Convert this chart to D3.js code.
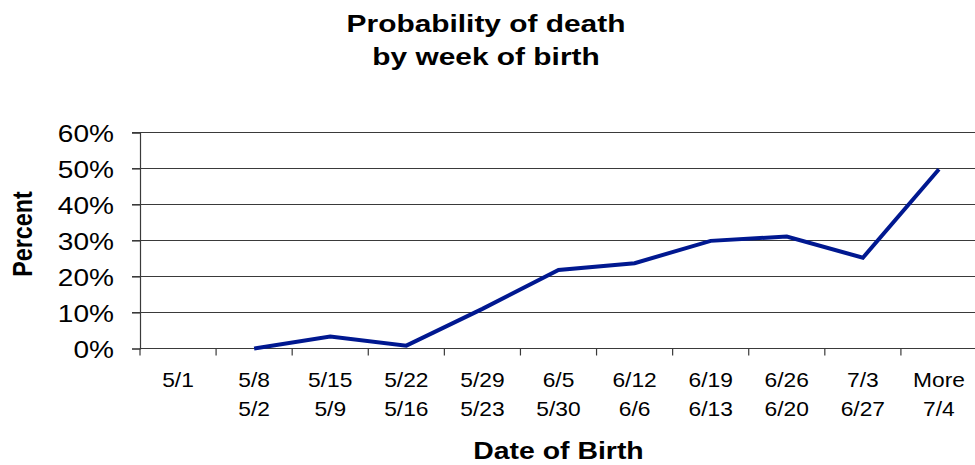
<!DOCTYPE html>
<html>
<head>
<meta charset="utf-8">
<script src="https://cdn.jsdelivr.net/npm/d3@7"></script>
<style>
  html, body { margin: 0; padding: 0; background: #fff; }
  svg { display: block; }
  text { font-family: "Liberation Sans", Arial, sans-serif; fill: #000; }
</style>
</head>
<body>
<svg id="chart" width="975" height="465"></svg>
<script>
// ---- data ----
const weekEnd   = ["5/1", "5/8", "5/15", "5/22", "5/29", "6/5", "6/12", "6/19", "6/26", "7/3", "More"];
const weekStart = ["", "5/2", "5/9", "5/16", "5/23", "5/30", "6/6", "6/13", "6/20", "6/27", "7/4"];
const deathPct  = [null, 0.0, 3.3, 0.8, 11.0, 21.8, 23.7, 29.9, 31.1, 25.2, 49.8];
const yTicks    = [0, 10, 20, 30, 40, 50, 60];
const titleLines = ["Probability of death", "by week of birth"];
const xTitle = "Date of Birth";
const yTitle = "Percent";

// ---- layout ----
const SX = 1.22; // horizontal text stretch of the reference
const plotL = 140, plotR = 977, plotT = 132.5, plotB = 348.5;
const svg = d3.select("#chart");

const x = d3.scaleBand().domain(weekEnd).range([plotL, plotR]).padding(0);
const y = d3.scaleLinear().domain([0, 60]).range([plotB, plotT]);

// gridlines
svg.append("g").selectAll("line").data(yTicks.filter(d => d > 0)).join("line")
  .attr("x1", plotL - 8).attr("x2", 975)
  .attr("y1", d => y(d)).attr("y2", d => y(d))
  .attr("stroke", "#3a3a3a").attr("stroke-width", 1.2);

// y axis
const yAxis = svg.append("g").attr("transform", `translate(${plotL},0)`)
  .call(d3.axisLeft(y).tickValues(yTicks).tickSize(8).tickPadding(0)
    .tickFormat(d => d + "%"));
yAxis.select(".domain").attr("stroke", "#3a3a3a").attr("stroke-width", 1.2);
yAxis.selectAll(".tick line").attr("stroke", "#3a3a3a").attr("stroke-width", 1.2);
yAxis.selectAll(".tick text")
  .attr("x", null).attr("dy", null)
  .attr("font-size", 23).attr("text-anchor", "end").attr("fill", "#000")
  .attr("transform", `translate(${114 - plotL},9) scale(${SX},1)`);

// x axis
const xAxis = svg.append("g").attr("transform", `translate(0,${plotB})`)
  .call(d3.axisBottom(x).tickSize(0).tickFormat(""));
xAxis.select(".domain").attr("stroke", "#3a3a3a").attr("stroke-width", 1.2)
  .attr("d", `M${plotL},0H975`);
// boundary ticks between categories
svg.append("g").selectAll("line").data(weekEnd).join("line")
  .attr("x1", d => x(d)).attr("x2", d => x(d))
  .attr("y1", plotB).attr("y2", plotB + 7)
  .attr("stroke", "#3a3a3a").attr("stroke-width", 1.2);

// category labels
const labs = svg.append("g");
weekEnd.forEach((d, i) => {
  const cx = x(d) + x.bandwidth() / 2;
  labs.append("text").text(d)
    .attr("font-size", 20).attr("text-anchor", "middle")
    .attr("transform", `translate(${cx},387) scale(1.14,1)`);
  if (weekStart[i]) {
    labs.append("text").text(weekStart[i])
      .attr("font-size", 20).attr("text-anchor", "middle")
      .attr("transform", `translate(${cx},416) scale(1.14,1)`);
  }
});

// line
const line = d3.line()
  .defined(d => d.v != null)
  .x(d => x(d.k) + x.bandwidth() / 2)
  .y(d => y(d.v));
svg.append("path")
  .datum(weekEnd.map((k, i) => ({ k, v: deathPct[i] })))
  .attr("fill", "none").attr("stroke", "#001890").attr("stroke-width", 4)
  .attr("stroke-linejoin", "miter").attr("d", line);

// titles
titleLines.forEach((t, i) => {
  svg.append("text").text(t)
    .attr("font-size", 24.5).attr("font-weight", "bold").attr("text-anchor", "middle")
    .attr("transform", `translate(486,${[31.7, 65][i]}) scale(${SX},1)`);
});
svg.append("text").text(xTitle)
  .attr("font-size", 23.3).attr("font-weight", "bold").attr("text-anchor", "middle")
  .attr("transform", `translate(558.5,459.3) scale(${SX},1)`);
svg.append("text").text(yTitle)
  .attr("font-size", 23.3).attr("font-weight", "bold").attr("text-anchor", "middle")
  .attr("transform", `translate(31.5,234) rotate(-90) scale(1,${SX})`);
</script>
</body>
</html>
